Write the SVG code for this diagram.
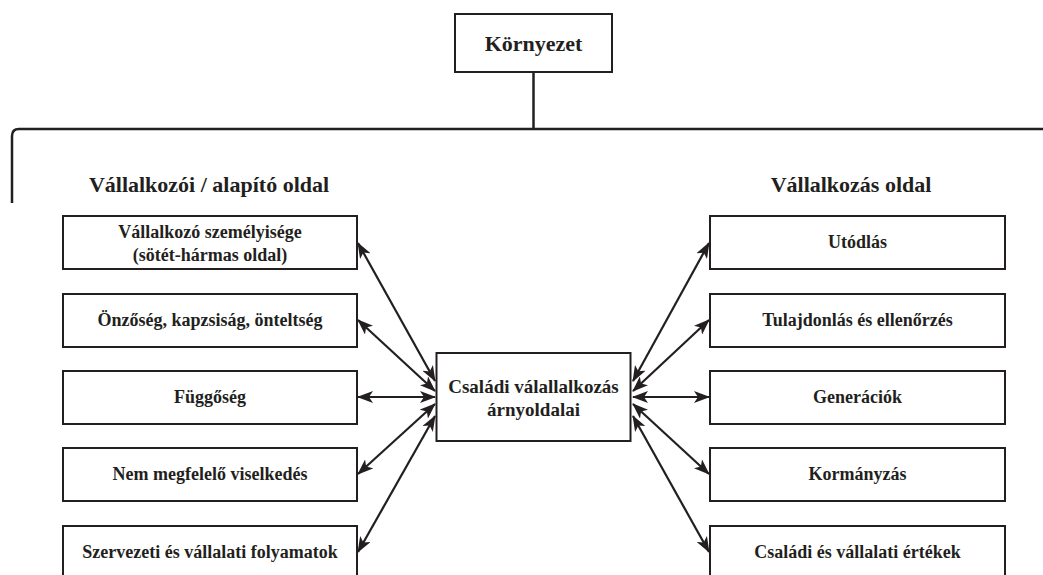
<svg xmlns="http://www.w3.org/2000/svg" width="1043" height="575" viewBox="0 0 1043 575">
<defs>
<style>
.box{fill:#fff;stroke:#231f20;stroke-width:2}
.t{font-family:'Liberation Serif','DejaVu Serif','Times New Roman',serif;font-weight:bold;fill:#231f20;text-anchor:middle}
.s{font-size:18px}
.c{font-size:19px}
.h{font-size:22px}
.ln{fill:none;stroke:#231f20;stroke-width:2.5}
.ar{stroke:#231f20;stroke-width:2.2;marker-start:url(#ah);marker-end:url(#ah)}
</style>
<marker id="ah" viewBox="0 0 16 12" refX="15" refY="6" markerWidth="16" markerHeight="12" markerUnits="userSpaceOnUse" orient="auto-start-reverse">
<path d="M0,0 L16,6 L0,12 L4,6 z" fill="#231f20"/>
</marker>
</defs>
<rect width="1043" height="575" fill="#fff"/>
<g id="connectors">
<path class="ln" d="M533.5,72 V129"/>
<path class="ln" d="M12,203 V136 Q12,129 19,129 H1043"/>
<line class="ar" x1="358" y1="243" x2="435" y2="381"/>
<line class="ar" x1="358" y1="320" x2="435" y2="391"/>
<line class="ar" x1="358" y1="397" x2="435" y2="397"/>
<line class="ar" x1="358" y1="474" x2="435" y2="404"/>
<line class="ar" x1="358" y1="552" x2="435" y2="416"/>
<line class="ar" x1="709" y1="243" x2="633" y2="381"/>
<line class="ar" x1="709" y1="320" x2="633" y2="391"/>
<line class="ar" x1="709" y1="397" x2="633" y2="397"/>
<line class="ar" x1="709" y1="474" x2="633" y2="404"/>
<line class="ar" x1="709" y1="552" x2="633" y2="416"/>
</g>
<g id="kornyezet">
<rect class="box" x="455" y="14" width="157" height="58"/>
<text class="t h" x="533.5" y="51">Környezet</text>
</g>
<g id="header-left"><text class="t h" x="209" y="192">Vállalkozói / alapító oldal</text></g>
<g id="header-right"><text class="t h" x="851" y="192">Vállalkozás oldal</text></g>
<g id="center">
<rect class="box" x="436.5" y="353" width="194" height="88"/>
<text class="t c" x="533.5" y="393">Családi válallalkozás</text>
<text class="t c" x="533.5" y="416">árnyoldalai</text>
</g>
<g id="l1"><rect class="box" x="63" y="216" width="294" height="53"/><text class="t s" x="210" y="238">Vállalkozó személyisége</text><text class="t s" x="210" y="261">(sötét-hármas oldal)</text></g>
<g id="l2"><rect class="box" x="63" y="294" width="294" height="53"/><text class="t s" x="210" y="326">Önzőség, kapzsiság, önteltség</text></g>
<g id="l3"><rect class="box" x="63" y="371" width="294" height="53"/><text class="t s" x="210" y="403">Függőség</text></g>
<g id="l4"><rect class="box" x="63" y="448" width="294" height="53"/><text class="t s" x="210" y="480">Nem megfelelő viselkedés</text></g>
<g id="l5"><rect class="box" x="63" y="526" width="294" height="60"/><text class="t s" x="210" y="558">Szervezeti és vállalati folyamatok</text></g>
<g id="r1"><rect class="box" x="710" y="216" width="295" height="53"/><text class="t s" x="857.5" y="248">Utódlás</text></g>
<g id="r2"><rect class="box" x="710" y="294" width="295" height="53"/><text class="t s" x="857.5" y="326">Tulajdonlás és ellenőrzés</text></g>
<g id="r3"><rect class="box" x="710" y="371" width="295" height="53"/><text class="t s" x="857.5" y="403">Generációk</text></g>
<g id="r4"><rect class="box" x="710" y="448" width="295" height="53"/><text class="t s" x="857.5" y="480">Kormányzás</text></g>
<g id="r5"><rect class="box" x="710" y="526" width="295" height="60"/><text class="t s" x="857.5" y="558">Családi és vállalati értékek</text></g>
</svg>
